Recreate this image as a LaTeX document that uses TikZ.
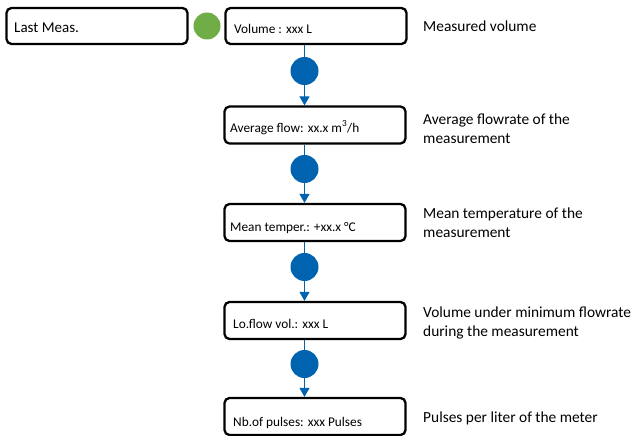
\documentclass[tikz,border=0pt]{standalone}
\usepackage{fontspec}
\setmainfont{Carlito}
\usetikzlibrary{arrows.meta}
\definecolor{dotblue}{HTML}{0063B0}
\definecolor{dotgreen}{HTML}{70AD47}
\tikzset{
  box/.style={draw=black, line width=2.3pt, rounded corners=5pt, fill=white},
  boxtext/.style={anchor=base west, inner sep=0pt, font=\fontsize{13.3}{15}\selectfont},
  desc/.style={anchor=base west, inner sep=0pt, align=left, font=\fontsize{15.4}{19}\selectfont},
  bdot/.style={circle, fill=dotblue, inner sep=0pt, minimum size=28pt},
  gdot/.style={circle, fill=dotgreen, inner sep=0pt, minimum size=27pt},
  flow/.style={draw=dotblue, line width=1.2pt},
  flowarrow/.style={draw=dotblue, line width=1.2pt, -{Triangle[width=10pt,length=9pt]}},
}
\begin{document}
\begin{tikzpicture}[x=1pt,y=-1pt]
\useasboundingbox (0,0) rectangle (640,436);
% boxes
\node[box, minimum width=181pt, minimum height=36pt] (last) at (97,26) {};
\node[box, minimum width=181pt, minimum height=36pt] (b1) at (316,26) {};
\node[box, minimum width=181pt, minimum height=37pt] (b2) at (315,125) {};
\node[box, minimum width=181pt, minimum height=37pt] (b3) at (315,222.5) {};
\node[box, minimum width=181pt, minimum height=37pt] (b4) at (315,320.5) {};
\node[box, minimum width=181pt, minimum height=37pt] (b5) at (315,416.5) {};
% texts
\node[anchor=base west, inner sep=0pt, font=\fontsize{15}{17}\selectfont] (tlast) at (14,33) {Last Meas.};
\node[boxtext] (t1) at (234,34) {Volume : xxx L};
\node[boxtext] (t2) at (230,132) {Average flow: xx.x m\textsuperscript{3}/h};
\node[boxtext] (t3) at (230,231) {Mean temper.: +xx.x °C};
\node[boxtext] (t4) at (233,328) {Lo.flow vol.: xxx L};
\node[boxtext] (t5) at (233,426) {Nb.of pulses: xxx Pulses};
% dots
\node[gdot] (g) at (207,26) {};
\node[bdot] (d1) at (304.5,71) {};
\node[bdot] (d2) at (304.5,169) {};
\node[bdot] (d3) at (304.5,267) {};
\node[bdot] (d4) at (304.5,364) {};
% connectors
\draw[flow] (b1.south -| d1) -- (d1.north);
\draw[flowarrow] (d1.south) -- (b2.north -| d1);
\draw[flow] (b2.south -| d2) -- (d2.north);
\draw[flowarrow] (d2.south) -- (b3.north -| d2);
\draw[flow] (b3.south -| d3) -- (d3.north);
\draw[flowarrow] (d3.south) -- (b4.north -| d3);
\draw[flow] (b4.south -| d4) -- (d4.north);
\draw[flowarrow] (d4.south) -- (b5.north -| d4);
% descriptions (anchor = baseline of last line)
\node[desc] (r1) at (423,32) {Measured volume};
\node[desc] (r2) at (423,143) {Average flowrate of the\\measurement};
\node[desc] (r3) at (423,237) {Mean temperature of the\\measurement};
\node[desc] (r4) at (423,336) {Volume under minimum flowrate\\during the measurement};
\node[desc] (r5) at (423,422) {Pulses per liter of the meter};
\end{tikzpicture}
\end{document}
